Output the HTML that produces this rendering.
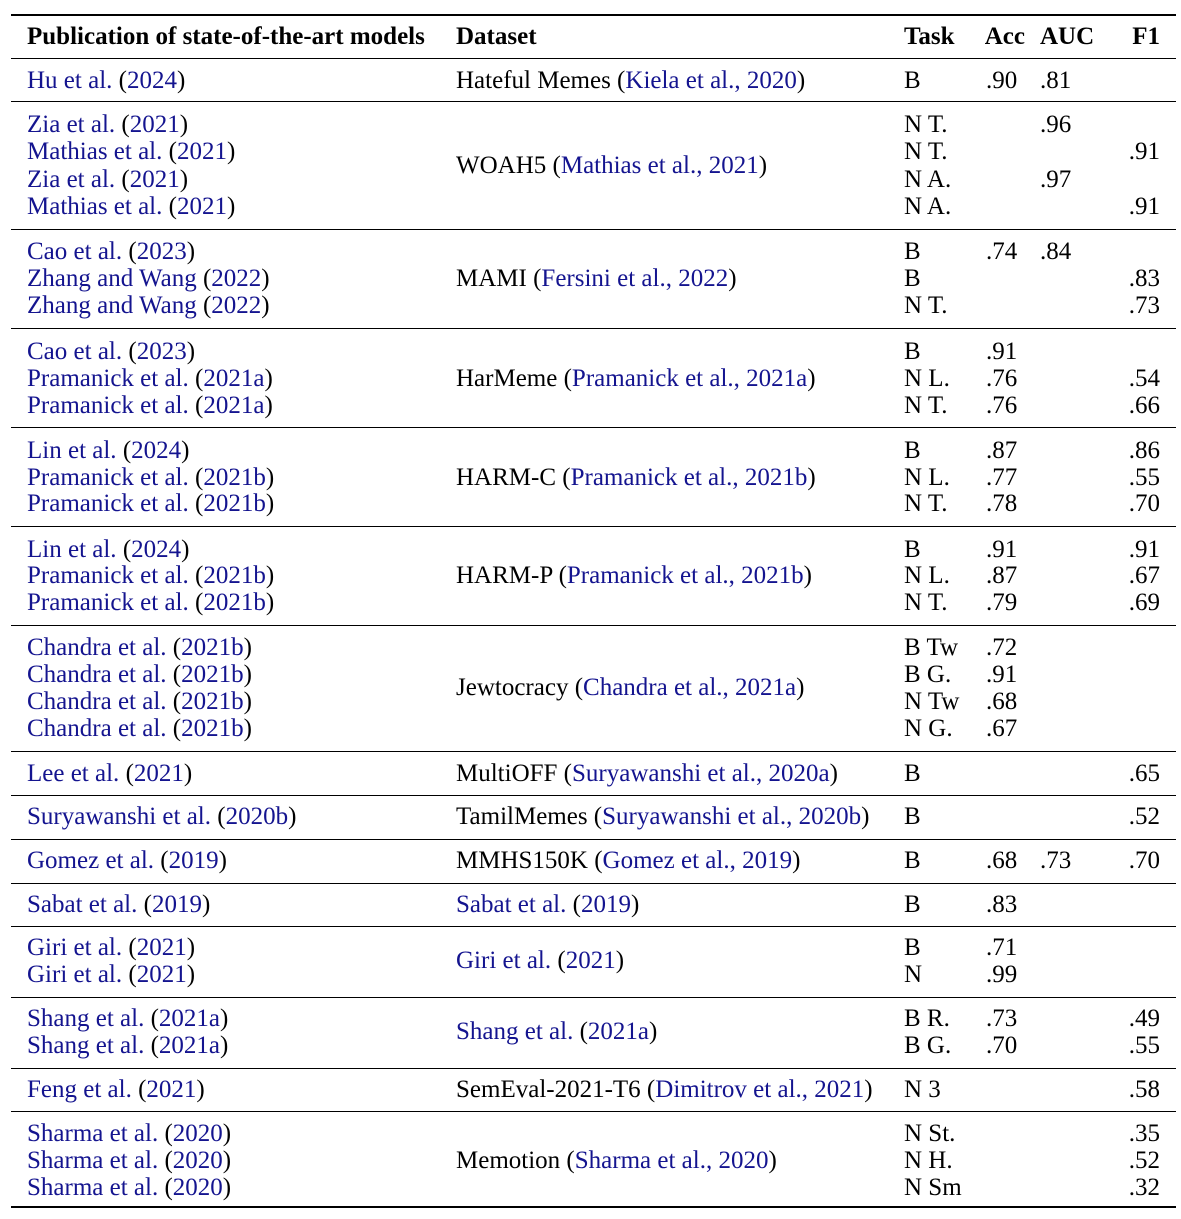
<!DOCTYPE html>
<html><head><meta charset="utf-8"><style>
body{margin:0;width:1181px;height:1219px;background:#fff;position:relative;font-family:"Liberation Serif","Times New Roman",serif;font-size:25px;color:#000;overflow:hidden}
div{position:absolute;white-space:nowrap;line-height:22px}
.r{left:11px;width:1165px;height:1px;background:#000}
.t{height:2px}
b{font-weight:bold}
i{font-style:normal;color:#14148f}
.n{text-align:right;width:60px;left:1100px}
</style></head><body>
<div class="r t" style="top:14px"></div>
<div style="top:26px;left:27px"><b>Publication of state-of-the-art models</b></div>
<div style="top:26px;left:456px"><b>Dataset</b></div>
<div style="top:26px;left:904px"><b>Task</b></div>
<div style="top:26px;left:965px;width:60px;text-align:right"><b>Acc</b></div>
<div style="top:26px;left:1040px"><b>AUC</b></div>
<div style="top:26px;left:1100px;width:60px;text-align:right"><b>F1</b></div>
<div class="r" style="top:58px"></div>

<div style="top:70px;left:27px"><i>Hu et al.</i> (<i>2024</i>)</div>
<div style="top:70px;left:456px">Hateful Memes (<i>Kiela et al., 2020</i>)</div>
<div style="top:70px;left:904px">B</div><div style="top:70px;left:986px">.90</div><div style="top:70px;left:1040px">.81</div>
<div class="r" style="top:101px"></div>

<div style="top:114px;left:27px"><i>Zia et al.</i> (<i>2021</i>)</div>
<div style="top:141px;left:27px"><i>Mathias et al.</i> (<i>2021</i>)</div>
<div style="top:169px;left:27px"><i>Zia et al.</i> (<i>2021</i>)</div>
<div style="top:196px;left:27px"><i>Mathias et al.</i> (<i>2021</i>)</div>
<div style="top:155px;left:456px">WOAH5 (<i>Mathias et al., 2021</i>)</div>
<div style="top:114px;left:904px">N T.</div><div style="top:114px;left:1040px">.96</div>
<div style="top:141px;left:904px">N T.</div><div class="n" style="top:141px">.91</div>
<div style="top:169px;left:904px">N A.</div><div style="top:169px;left:1040px">.97</div>
<div style="top:196px;left:904px">N A.</div><div class="n" style="top:196px">.91</div>
<div class="r" style="top:229px"></div>

<div style="top:241px;left:27px"><i>Cao et al.</i> (<i>2023</i>)</div>
<div style="top:268px;left:27px"><i>Zhang and Wang</i> (<i>2022</i>)</div>
<div style="top:295px;left:27px"><i>Zhang and Wang</i> (<i>2022</i>)</div>
<div style="top:268px;left:456px">MAMI (<i>Fersini et al., 2022</i>)</div>
<div style="top:241px;left:904px">B</div><div style="top:241px;left:986px">.74</div><div style="top:241px;left:1040px">.84</div>
<div style="top:268px;left:904px">B</div><div class="n" style="top:268px">.83</div>
<div style="top:295px;left:904px">N T.</div><div class="n" style="top:295px">.73</div>
<div class="r" style="top:328px"></div>

<div style="top:341px;left:27px"><i>Cao et al.</i> (<i>2023</i>)</div>
<div style="top:368px;left:27px"><i>Pramanick et al.</i> (<i>2021a</i>)</div>
<div style="top:395px;left:27px"><i>Pramanick et al.</i> (<i>2021a</i>)</div>
<div style="top:368px;left:456px">HarMeme (<i>Pramanick et al., 2021a</i>)</div>
<div style="top:341px;left:904px">B</div><div style="top:341px;left:986px">.91</div>
<div style="top:368px;left:904px">N L.</div><div style="top:368px;left:986px">.76</div><div class="n" style="top:368px">.54</div>
<div style="top:395px;left:904px">N T.</div><div style="top:395px;left:986px">.76</div><div class="n" style="top:395px">.66</div>
<div class="r" style="top:427px"></div>

<div style="top:440px;left:27px"><i>Lin et al.</i> (<i>2024</i>)</div>
<div style="top:467px;left:27px"><i>Pramanick et al.</i> (<i>2021b</i>)</div>
<div style="top:493px;left:27px"><i>Pramanick et al.</i> (<i>2021b</i>)</div>
<div style="top:467px;left:456px">HARM-C (<i>Pramanick et al., 2021b</i>)</div>
<div style="top:440px;left:904px">B</div><div style="top:440px;left:986px">.87</div><div class="n" style="top:440px">.86</div>
<div style="top:467px;left:904px">N L.</div><div style="top:467px;left:986px">.77</div><div class="n" style="top:467px">.55</div>
<div style="top:493px;left:904px">N T.</div><div style="top:493px;left:986px">.78</div><div class="n" style="top:493px">.70</div>
<div class="r" style="top:526px"></div>

<div style="top:539px;left:27px"><i>Lin et al.</i> (<i>2024</i>)</div>
<div style="top:565px;left:27px"><i>Pramanick et al.</i> (<i>2021b</i>)</div>
<div style="top:592px;left:27px"><i>Pramanick et al.</i> (<i>2021b</i>)</div>
<div style="top:565px;left:456px">HARM-P (<i>Pramanick et al., 2021b</i>)</div>
<div style="top:539px;left:904px">B</div><div style="top:539px;left:986px">.91</div><div class="n" style="top:539px">.91</div>
<div style="top:565px;left:904px">N L.</div><div style="top:565px;left:986px">.87</div><div class="n" style="top:565px">.67</div>
<div style="top:592px;left:904px">N T.</div><div style="top:592px;left:986px">.79</div><div class="n" style="top:592px">.69</div>
<div class="r" style="top:625px"></div>

<div style="top:637px;left:27px"><i>Chandra et al.</i> (<i>2021b</i>)</div>
<div style="top:664px;left:27px"><i>Chandra et al.</i> (<i>2021b</i>)</div>
<div style="top:691px;left:27px"><i>Chandra et al.</i> (<i>2021b</i>)</div>
<div style="top:718px;left:27px"><i>Chandra et al.</i> (<i>2021b</i>)</div>
<div style="top:677px;left:456px">Jewtocracy (<i>Chandra et al., 2021a</i>)</div>
<div style="top:637px;left:904px">B Tw</div><div style="top:637px;left:986px">.72</div>
<div style="top:664px;left:904px">B G.</div><div style="top:664px;left:986px">.91</div>
<div style="top:691px;left:904px">N Tw</div><div style="top:691px;left:986px">.68</div>
<div style="top:718px;left:904px">N G.</div><div style="top:718px;left:986px">.67</div>
<div class="r" style="top:751px"></div>

<div style="top:763px;left:27px"><i>Lee et al.</i> (<i>2021</i>)</div>
<div style="top:763px;left:456px">MultiOFF (<i>Suryawanshi et al., 2020a</i>)</div>
<div style="top:763px;left:904px">B</div><div class="n" style="top:763px">.65</div>
<div class="r" style="top:795px"></div>

<div style="top:806px;left:27px"><i>Suryawanshi et al.</i> (<i>2020b</i>)</div>
<div style="top:806px;left:456px">TamilMemes (<i>Suryawanshi et al., 2020b</i>)</div>
<div style="top:806px;left:904px">B</div><div class="n" style="top:806px">.52</div>
<div class="r" style="top:839px"></div>

<div style="top:850px;left:27px"><i>Gomez et al.</i> (<i>2019</i>)</div>
<div style="top:850px;left:456px">MMHS150K (<i>Gomez et al., 2019</i>)</div>
<div style="top:850px;left:904px">B</div><div style="top:850px;left:986px">.68</div><div style="top:850px;left:1040px">.73</div><div class="n" style="top:850px">.70</div>
<div class="r" style="top:883px"></div>

<div style="top:894px;left:27px"><i>Sabat et al.</i> (<i>2019</i>)</div>
<div style="top:894px;left:456px"><i>Sabat et al.</i> (<i>2019</i>)</div>
<div style="top:894px;left:904px">B</div><div style="top:894px;left:986px">.83</div>
<div class="r" style="top:926px"></div>

<div style="top:937px;left:27px"><i>Giri et al.</i> (<i>2021</i>)</div>
<div style="top:964px;left:27px"><i>Giri et al.</i> (<i>2021</i>)</div>
<div style="top:950px;left:456px"><i>Giri et al.</i> (<i>2021</i>)</div>
<div style="top:937px;left:904px">B</div><div style="top:937px;left:986px">.71</div>
<div style="top:964px;left:904px">N</div><div style="top:964px;left:986px">.99</div>
<div class="r" style="top:997px"></div>

<div style="top:1008px;left:27px"><i>Shang et al.</i> (<i>2021a</i>)</div>
<div style="top:1035px;left:27px"><i>Shang et al.</i> (<i>2021a</i>)</div>
<div style="top:1021px;left:456px"><i>Shang et al.</i> (<i>2021a</i>)</div>
<div style="top:1008px;left:904px">B R.</div><div style="top:1008px;left:986px">.73</div><div class="n" style="top:1008px">.49</div>
<div style="top:1035px;left:904px">B G.</div><div style="top:1035px;left:986px">.70</div><div class="n" style="top:1035px">.55</div>
<div class="r" style="top:1068px"></div>

<div style="top:1079px;left:27px"><i>Feng et al.</i> (<i>2021</i>)</div>
<div style="top:1079px;left:456px">SemEval-2021-T6 (<i>Dimitrov et al., 2021</i>)</div>
<div style="top:1079px;left:904px">N 3</div><div class="n" style="top:1079px">.58</div>
<div class="r" style="top:1111px"></div>

<div style="top:1123px;left:27px"><i>Sharma et al.</i> (<i>2020</i>)</div>
<div style="top:1150px;left:27px"><i>Sharma et al.</i> (<i>2020</i>)</div>
<div style="top:1177px;left:27px"><i>Sharma et al.</i> (<i>2020</i>)</div>
<div style="top:1150px;left:456px">Memotion (<i>Sharma et al., 2020</i>)</div>
<div style="top:1123px;left:904px">N St.</div><div class="n" style="top:1123px">.35</div>
<div style="top:1150px;left:904px">N H.</div><div class="n" style="top:1150px">.52</div>
<div style="top:1177px;left:904px">N Sm</div><div class="n" style="top:1177px">.32</div>
<div class="r t" style="top:1206px"></div>
</body></html>
